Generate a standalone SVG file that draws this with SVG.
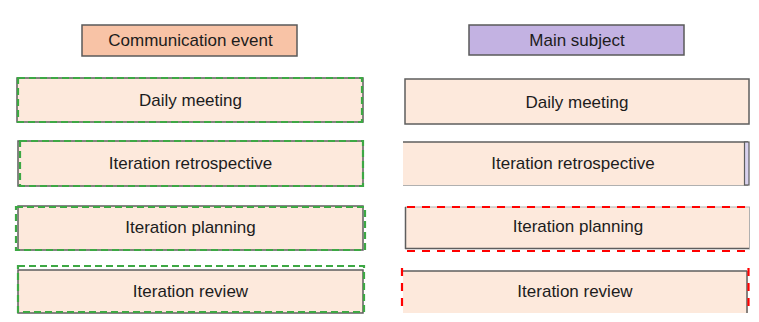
<svg xmlns="http://www.w3.org/2000/svg" width="759" height="322" viewBox="0 0 759 322">
<style>
.bg{fill:#ffffff}
.hdl{fill:#f8c3a6;stroke:#5a5a5a;stroke-width:1.5}
.hdr{fill:#c3b2e2;stroke:#5a5a5a;stroke-width:1.5}
.box{fill:#fde9dc;stroke:#5e5e5e;stroke-width:1.5}
.fill{fill:#fde9dc;stroke:none}
.ln{stroke:#5e5e5e;stroke-width:1.5;fill:none}
.lt{stroke:#b0b0b0;stroke-width:1;fill:none}
.g{fill:none;stroke:#3da844;stroke-width:2.2;stroke-dasharray:7 4}
.r{fill:none;stroke:#ff0000;stroke-width:2.2;stroke-dasharray:8 7}
text{font-family:"Liberation Sans",Arial,sans-serif;font-size:17px;fill:#1c1c1c;text-anchor:middle}
</style>
<rect class="bg" x="0" y="0" width="759" height="322"/>
<g id="header-left"><rect class="hdl" x="82" y="25" width="215" height="31"/><text x="190.5" y="46">Communication event</text></g>
<g id="header-right"><rect class="hdr" x="469" y="25" width="215" height="30"/><text x="577" y="46">Main subject</text></g>

<g id="left-daily"><rect class="box" x="17" y="78" width="346" height="44"/><rect class="g" x="18" y="78" width="344" height="44"/><text x="190.5" y="106">Daily meeting</text></g>
<g id="left-retro"><rect class="box" x="18" y="141" width="345" height="45"/><rect class="g" x="20" y="141" width="343" height="45"/><text x="190.5" y="169">Iteration retrospective</text></g>
<g id="left-planning"><rect class="box" x="18" y="206" width="345" height="44"/><rect class="g" x="16" y="207" width="349" height="43"/><text x="190.5" y="233">Iteration planning</text></g>
<g id="left-review"><rect class="box" x="18" y="270" width="345" height="43"/><rect class="g" x="18" y="266" width="346" height="46"/><text x="190.5" y="297">Iteration review</text></g>

<g id="right-daily"><rect class="box" x="405" y="79" width="344" height="45"/><text x="577" y="108">Daily meeting</text></g>
<g id="right-retro"><rect class="fill" x="403" y="142" width="345" height="43"/><line class="ln" x1="403" y1="142" x2="748" y2="142"/><line class="lt" x1="403" y1="185.5" x2="748" y2="185.5"/><rect x="744.5" y="142" width="4.5" height="43" fill="#d9d2ee" stroke="#5e5e5e" stroke-width="1.2"/><text x="573" y="169">Iteration retrospective</text></g>
<g id="right-planning"><rect class="fill" x="405" y="207" width="345" height="42"/><line class="lt" x1="405" y1="207" x2="750" y2="207"/><line class="ln" x1="405.5" y1="207" x2="405.5" y2="249"/><line class="ln" x1="405" y1="248.5" x2="750" y2="248.5"/><line class="lt" x1="749.5" y1="207" x2="749.5" y2="249"/><line class="r" x1="407" y1="207" x2="750" y2="207"/><line class="r" x1="407" y1="251" x2="750" y2="251"/><text x="578" y="232">Iteration planning</text></g>
<g id="right-review"><rect class="fill" x="403" y="271" width="345" height="42"/><line class="ln" x1="403" y1="271" x2="747" y2="271"/><line class="ln" x1="747" y1="271" x2="747" y2="313"/><line class="r" x1="402" y1="268" x2="402" y2="307"/><line class="r" x1="748.5" y1="268" x2="748.5" y2="313"/><text x="575" y="297">Iteration review</text></g>
<g id="connectors"></g>
</svg>
